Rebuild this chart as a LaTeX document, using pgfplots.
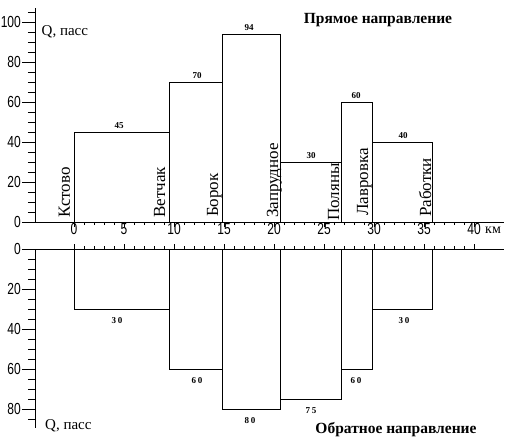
\documentclass[border=0pt]{standalone}
\usepackage{fontspec}
\setmainfont{Liberation Serif}
\newfontfamily\ticksfont[FakeStretch=0.75]{Liberation Sans}
\usepackage{pgfplots}
\pgfplotsset{compat=1.18}
\pgfplotsset{
  common/.style={x=10pt, y=2pt, xmin=-3.9, xmax=43, clip=false, anchor=origin,
    axis line style={line width=0.8pt,-}, tick style={black, line width=0.7pt},
    tick align=outside, scaled ticks=false,
    /pgf/number format/assume math mode=true,
    ticklabel style={font=\ticksfont\fontsize{16}{16}\selectfont},
  },
  yaxis/.style={common, axis y line*=left, hide x axis, xtick=\empty,
    major tick length=13pt, minor tick length=7pt,
    yticklabel style={inner sep=1pt}},
  xaxis/.style={common, axis x line*=bottom, hide y axis, ytick=\empty,
    xtick={0,5,...,40}, minor x tick num=4, major tick length=5pt, minor tick length=3pt,
    xticklabel style={yshift=7pt}},
}
\tikzset{
  station/.style={rotate=90, font=\fontsize{17}{17}\selectfont, inner sep=0pt, anchor=base west},
  vallab/.style={font=\bfseries\fontsize{9}{9}\selectfont, inner sep=1pt},
}
\begin{document}
\begin{tikzpicture}
\useasboundingbox (-74pt,-220pt) rectangle (431pt,222pt);
% ---------- top panel: data and y axis ----------
\begin{axis}[yaxis, at={(0,0)}, ymin=0, ymax=107,
  ytick={0,20,...,100}, minor ytick={5,10,...,105}]
\addplot[ybar interval, draw=black, fill=none, line width=0.8pt]
  coordinates {(0,45)(9.5,70)(14.8,94)(20.6,30)(26.7,60)(29.8,40)(35.8,40)};
\addplot[draw=none, mark=none, nodes near coords,
  nodes near coords style={vallab, anchor=south, yshift=2pt}]
  coordinates {(4.5,45)(12.3,70)(17.5,94)(23.7,30)(28.2,60)(32.9,40)};
\node[station] at (axis cs:-0.4,2) {Кстово};
\node[station] at (axis cs:9.1,2) {Ветчак};
\node[station] at (axis cs:14.4,2.5) {Борок};
\node[station] at (axis cs:20.4,2) {Запрудное};
\node[station] at (axis cs:26.5,0.5) {Поляны};
\node[station] at (axis cs:29.4,3) {Лавровка};
\node[station] at (axis cs:35.7,2.5) {Работки};
\node[font=\bfseries\fontsize{15.5}{15.5}\selectfont] at (axis cs:30.4,101) {Прямое направление};
\node[anchor=west, inner sep=0pt, font=\fontsize{15}{15}\selectfont] at (axis cs:-3.25,95) {Q, пасс};
\end{axis}
% ---------- top panel: x axis ----------
\begin{axis}[xaxis, at={(0,0)}, ymin=0, ymax=107]
\node[anchor=west, inner sep=0pt, font=\fontsize{14}{14}\selectfont] at (axis cs:41.1,0) [yshift=-8pt] {км};
\end{axis}
% ---------- bottom panel: data and y axis ----------
\begin{axis}[yaxis, at={(0,-27pt)}, y dir=reverse, ymin=0, ymax=89.5,
  ytick={0,20,...,80}, minor ytick={5,10,...,85}]
\addplot[ybar interval, draw=black, fill=none, line width=0.8pt]
  coordinates {(0,30)(9.5,60)(14.8,80)(20.6,75)(26.7,60)(29.8,30)(35.8,30)};
\addplot[draw=none, mark=none, nodes near coords,
  nodes near coords style={vallab, font=\bfseries\fontsize{9}{9}\selectfont\addfontfeature{LetterSpace=20}, anchor=north, yshift=-7pt}]
  coordinates {(4.3,30)(12.3,60)(17.6,80)(23.7,75)(28.2,60)(33,30)};
\node[font=\bfseries\fontsize{15.5}{15.5}\selectfont] at (axis cs:32.2,90.5) {Обратное направление};
\node[anchor=west, inner sep=0pt, font=\fontsize{15}{15}\selectfont] at (axis cs:-2.9,88.5) {Q, пасс};
\end{axis}
% ---------- bottom panel: x axis ----------
\begin{axis}[xaxis, at={(0,-27pt)}, ymin=-89.5, ymax=0, axis x line*=top, xticklabels={}]
\end{axis}
\end{tikzpicture}
\end{document}
